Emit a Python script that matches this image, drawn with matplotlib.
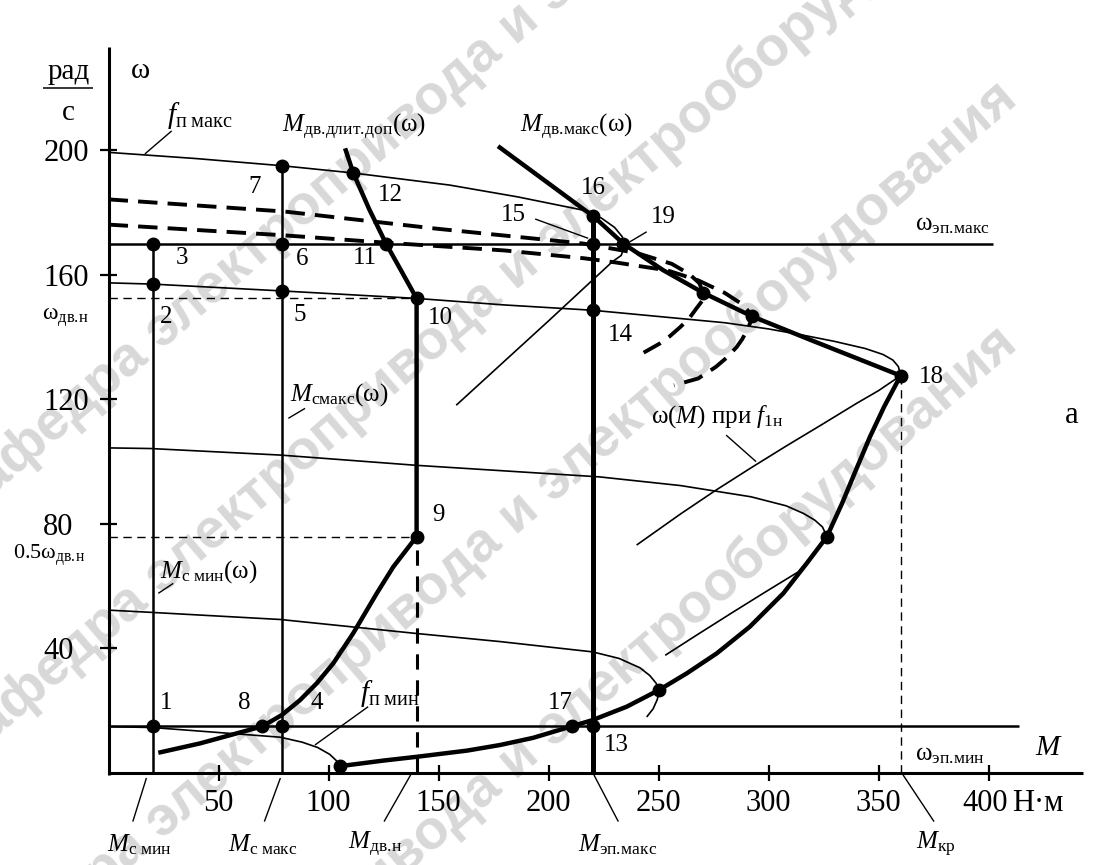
import matplotlib
matplotlib.use("Agg")
import matplotlib.pyplot as plt

plt.rcParams['font.family'] = ['Liberation Serif', 'DejaVu Serif']
plt.rcParams['mathtext.fontset'] = 'custom'
plt.rcParams['mathtext.rm'] = 'Liberation Serif'
plt.rcParams['mathtext.it'] = 'Liberation Serif:italic'
plt.rcParams['mathtext.bf'] = 'Liberation Serif:bold'

# ---------------- levels (torque, N*m; speed, rad/s) ----------------
M_C_MIN = 20
M_C_MAX = 79
M_DV_N = 140
M_EP_MAX = 220
M_KR = 360
W_DV_N = 152.4
W_HALF = 75.9
W_EP_MAX = 170
W_EP_MIN = 15

x_ticks = [50, 100, 150, 200, 250, 300, 350, 400]
y_ticks = [40, 80, 120, 160, 200]

# ---------------- mechanical characteristics omega(M) ----------------
# f_p max (field weakening, turns back near the M_dv.max locus)
fmax_M = [0, 40, 79, 111, 155, 186, 216, 224, 230, 233.5, 234.5, 233, 229, 200, 158]
fmax_w = [199.3, 197.3, 195.0, 192.7, 188.8, 185.0, 180.7, 178.2, 175.2, 172.2, 169.2, 166.2, 164.2, 145.2, 118.1]

# nominal frequency f_1n (stable and unstable branches)
nom_M = [0, 20, 79, 140, 180, 220, 250, 280, 300, 315, 330, 344, 352, 356.5, 359, 360]
nom_w = [157.4, 157.0, 154.8, 152.4, 150.3, 148.6, 146.6, 144.6, 142.6, 140.7, 138.6,
         136.3, 134.4, 132.6, 130.5, 127.6]
nom_u_M = [360, 350, 340, 324, 308, 292, 276, 260, 240]
nom_u_w = [127.6, 122.8, 118.7, 111.8, 105.0, 98.0, 90.8, 83.2, 73.2]

# reduced frequencies
c104_M = [0, 19, 78, 140, 223, 260, 292, 308, 316, 321, 324.5, 326.5]
c104_w = [104.4, 104.2, 102.1, 98.8, 95.1, 92.3, 88.7, 85.8, 83.3, 81.2, 79.0, 75.9]
c104_u_M = [326.5, 323, 318, 313.5, 298, 283, 268, 253]
c104_u_w = [75.9, 72.3, 68.3, 64.6, 57.9, 51.3, 44.6, 37.8]

c52_M = [0, 19, 78, 140, 178, 220, 232, 241.5, 246, 248.8, 250.3]
c52_w = [52.3, 51.6, 49.3, 44.8, 42.2, 38.9, 36.8, 33.8, 31.3, 28.9, 26.7]
c52_u_M = [250.3, 249.4, 247.5, 244.6]
c52_u_w = [26.7, 23.6, 20.6, 18.0]

fmin_M = [0, 20, 50, 78, 88, 95, 100.5, 103.5, 105.2]
fmin_w = [14.9, 14.6, 13.0, 11.5, 9.9, 8.2, 6.0, 4.0, 2.2]

# intermediate frequencies above nominal (dashed)
dU_M = [0, 80, 149, 216, 240, 256, 264, 268.5, 270.3, 269.8, 267.2, 264, 260, 255, 250.5, 242.5]
dU_w = [184.2, 180.3, 174.8, 170.0, 167.0, 163.5, 160.2, 157.3, 154.2, 151.6, 149.2, 146.1,
        143.3, 140.2, 137.9, 134.7]
dL_M = [0, 79, 126, 180, 216, 231, 254, 268, 280, 288.5, 292.5, 291.5, 290.2, 288, 285.5,
        281, 276, 268, 257]
dL_w = [176.1, 172.7, 170.3, 167.8, 165.3, 163.9, 161.4, 158.2, 154.2, 150.3, 146.8, 144.3,
        142.2, 139.3, 136.8, 133.4, 130.4, 126.7, 124.5]

# ---------------- limiting torque curves ----------------
dvmax_M = [177, 216, 220, 234, 252, 270.3, 292.3, 320, 340, 360]
dvmax_w = [201.3, 181.0, 179.0, 170.0, 161.5, 154.2, 146.7, 138.8, 133.2, 127.6]

# long-term permissible torque: low-speed part, M_dv.n segment, power-limited part
dop_M = [22.6, 41.5, 61.2, 69.9, 78.7, 87, 94.6, 102.1, 111.2, 121.9, 129.4, 140,
         140, 133, 126.1, 118.5, 111.2, 107.5]
dop_w = [6.5, 9.5, 13.3, 15.0, 18.6, 23.4, 28.8, 35.2, 44.9, 57.7, 66.2, 75.9,
         152.4, 161.3, 170.0, 181.0, 192.7, 200.6]

# critical torque locus at reduced frequency
kr_M = [105.2, 125, 140, 163, 178, 193, 210.5, 220, 235.5, 250.3, 262.8, 276.4, 291.5,
        306.7, 317.3, 326.5, 333.4, 339.7, 346.1, 352.5, 360]
kr_w = [2.2, 4.0, 5.2, 7.2, 9.0, 11.3, 15.0, 17.0, 21.3, 26.7, 32.0, 38.4, 47.0,
        57.7, 67.3, 75.9, 86.6, 97.3, 108.0, 117.6, 127.6]

# ---------------- operating points ----------------
pt_names = ['1', '2', '3', '4', '5', '6', '7', '8', '9', '10', '11', '12',
            '13', '14', '15', '16', '17', '18', '19', '', '', '', '', '']
pt_M = [20, 20, 20, 79, 79, 79, 79, 69.9, 140, 140, 126.1, 111.2,
        220, 220, 220, 220, 210.5, 360, 234, 105.2, 270.3, 292.3, 326.5, 250.3]
pt_w = [15, 157.0, 170, 15, 154.8, 170, 195.0, 15, 75.9, 152.4, 170, 192.7,
        15, 148.6, 170, 179, 15, 127.6, 170, 2.2, 154.2, 146.7, 75.9, 26.7]

WATERMARK = 'кафедра электропривода и электрооборудования'

# ---------------- figure ----------------
fig = plt.figure(figsize=(11.12, 8.65), dpi=100)
ax = fig.add_axes([0, 0, 1, 1])
ax.set_xlim(-49.36, 456.09)
ax.set_ylim(-29.54, 248.23)
ax.axis('off')

# faint diagonal department stamp, kept underneath the drawing
for y0 in [515, 760, 1005, 1250]:
    ax.text(-30 / 1112, 1 - y0 / 865, WATERMARK, transform=fig.transFigure,
            family='Liberation Sans', weight='bold', fontsize=40, color='#d8d8d8',
            rotation=40.7, rotation_mode='anchor', ha='left', va='baseline',
            zorder=0.5, clip_on=False)

K = 'black'


def line(Ms, ws, lw, dashes=None, z=3):
    ln, = ax.plot(Ms, ws, color=K, lw=lw, solid_capstyle='butt',
                  solid_joinstyle='round', dash_capstyle='butt', zorder=z)
    if dashes is not None:
        ln.set_dashes(dashes)
    return ln


# axes
line([0, 0], [-0.5, 233], 2.2)
line([0, 443], [0, 0], 2.2)
for t in y_ticks:
    line([-3.8, 3.6], [t, t], 1.6)
    ax.text(-29.7, t, str(t), fontsize=22, ha='left', va='center_baseline')
for t in x_ticks:
    line([t, t], [-2.7, 2.7], 1.6)
for t in x_ticks[:-1]:
    ax.text(t, -8.7, str(t), fontsize=22, ha='center', va='center_baseline')
ax.text(398.5, -8.7, '400', fontsize=22, ha='center', va='center_baseline')
ax.text(410.5, -8.7, 'Н·м', fontsize=22, ha='left', va='center_baseline')
ax.text(427.5, 8.0, '$M$', fontsize=21, ha='center', va='center')
ax.text(14.3, 225.5, 'ω', fontsize=21, ha='center', va='center')
ax.text(-18.3, 225.2, 'рад', fontsize=21, ha='center', va='center')
line([-29.9, -7.0], [220.1, 220.1], 1.1)
ax.text(-18.3, 212.0, 'с', fontsize=21, ha='center', va='center')

# reference levels
line([0, 402], [W_EP_MAX, W_EP_MAX], 1.8)
line([0, 414], [W_EP_MIN, W_EP_MIN], 1.8)
line([0, M_DV_N], [W_DV_N, W_DV_N], 1.0, dashes=(6, 4))
line([0, M_DV_N], [W_HALF, W_HALF], 1.0, dashes=(6, 4))
line([M_KR, M_KR], [0, 127.6], 1.0, dashes=(6, 4))
line([M_DV_N, M_DV_N], [0, W_HALF], 2.2, dashes=(5, 3.5))
line([M_C_MIN, M_C_MIN], [0, W_EP_MAX], 1.8)
line([M_C_MAX, M_C_MAX], [0, 195.0], 1.8)
line([M_EP_MAX, M_EP_MAX], [0, 179], 3.6)

# characteristics
for Ms, ws in [(fmax_M, fmax_w), (nom_M, nom_w), (nom_u_M, nom_u_w),
               (c104_M, c104_w), (c104_u_M, c104_u_w), (c52_M, c52_w),
               (c52_u_M, c52_u_w), (fmin_M, fmin_w)]:
    line(Ms, ws, 1.2)
line(dU_M, dU_w, 2.8, dashes=(5, 2.6))
line(dL_M, dL_w, 2.8, dashes=(5, 2.6))

# limit curves
line(dvmax_M, dvmax_w, 3.2, z=4)
line(dop_M, dop_w, 3.2, z=4)
line(kr_M, kr_w, 3.2, z=4)

ax.plot(pt_M, pt_w, 'o', color=K, ms=9, zorder=6)

# point numbers
num_pos = {'1': (26.3, 22.4), '8': (61.5, 22.5), '4': (94.7, 22.5), '17': (205.2, 22.5),
           '13': (231, 9), '2': (26.3, 146.5), '3': (33.2, 165.3), '5': (87, 147),
           '6': (87.8, 165), '7': (66.5, 188.3), '11': (116.5, 165.3), '12': (127.9, 185.6),
           '10': (150.6, 146), '14': (232.5, 140.7), '15': (184, 179.2), '16': (220.3, 187.8),
           '19': (252.1, 178.6), '18': (374.1, 127.3), '9': (149.9, 82.9)}
for name in pt_names:
    if name:
        x, y = num_pos[name]
        ax.text(x, y, name, fontsize=18, ha='center', va='center')

# leaders
for (x0, y0), (x1, y1) in [((193.9, 177.9), (218, 171.7)), ((244.6, 173.8), (237, 170.6)),
                           ((28.7, 206.2), (16.5, 198.8)), ((89.3, 117.1), (81.7, 113.9)),
                           ((29.4, 60.9), (22.6, 57.7)), ((118, 21.3), (93.8, 9)),
                           ((280.7, 108.5), (294.3, 100)),
                           ((17.2, -1.6), (11, -15.6)), ((78.1, -1.6), (70.8, -15.6)),
                           ((137.3, -0.6), (125.2, -15.6)), ((220.6, -0.6), (231.7, -15.6)),
                           ((361.1, -0.6), (375.2, -15.6))]:
    line([x0, x1], [y0, y1], 1.0)

# curve captions
ax.text(41.5, 211.3, r'$f_{\mathrm{п\ макс}}$', fontsize=21, ha='center', va='center')
ax.text(78.7, 207.5, r'$M_{\mathrm{дв.\!длит.\!доп}}$(ω)', fontsize=18, ha='left', va='center')
ax.text(187, 207.5, r'$M_{\mathrm{дв.\!макс}}$(ω)', fontsize=18, ha='left', va='center')
ax.text(82.5, 121.4, r'$M_{\mathrm{смакс}}$(ω)', fontsize=18, ha='left', va='center')
ax.text(23.4, 64.6, r'$M_{\mathrm{с\ мин}}$(ω)', fontsize=18, ha='left', va='center')
ax.text(114.3, 25.6, r'$f_{\mathrm{п\ мин}}$', fontsize=21, ha='left', va='center')
ax.text(366.5, 176, r'ω$_{\mathrm{эп.\!макс}}$', fontsize=18, ha='left', va='center')
ax.text(366.5, 5.8, r'ω$_{\mathrm{эп.\!мин}}$', fontsize=18, ha='left', va='center')
ax.text(246.4, 114.4, r'ω($M$) при $f_{\mathrm{1н}}$', fontsize=18, ha='left', va='center')
ax.text(-30.3, 146.5, r'ω$_{\mathrm{дв.\!н}}$', fontsize=17, ha='left', va='center')
ax.text(-43.5, 70, r'0.5ω$_{\mathrm{дв.\!н}}$', fontsize=16, ha='left', va='center')
ax.text(437.8, 114.9, 'а', fontsize=22, ha='center', va='center')

# bottom captions
for x, s in [(-0.7, r'$M_{\mathrm{с\ мин}}$'), (54.5, r'$M_{\mathrm{с\ макс}}$'),
             (108.8, r'$M_{\mathrm{дв.\!н}}$'), (213.4, r'$M_{\mathrm{эп.\!макс}}$'),
             (366.9, r'$M_{\mathrm{кр}}$')]:
    ax.text(x, -23.1, s, fontsize=18, ha='left', va='center')

fig.savefig('out.png', dpi=100)
